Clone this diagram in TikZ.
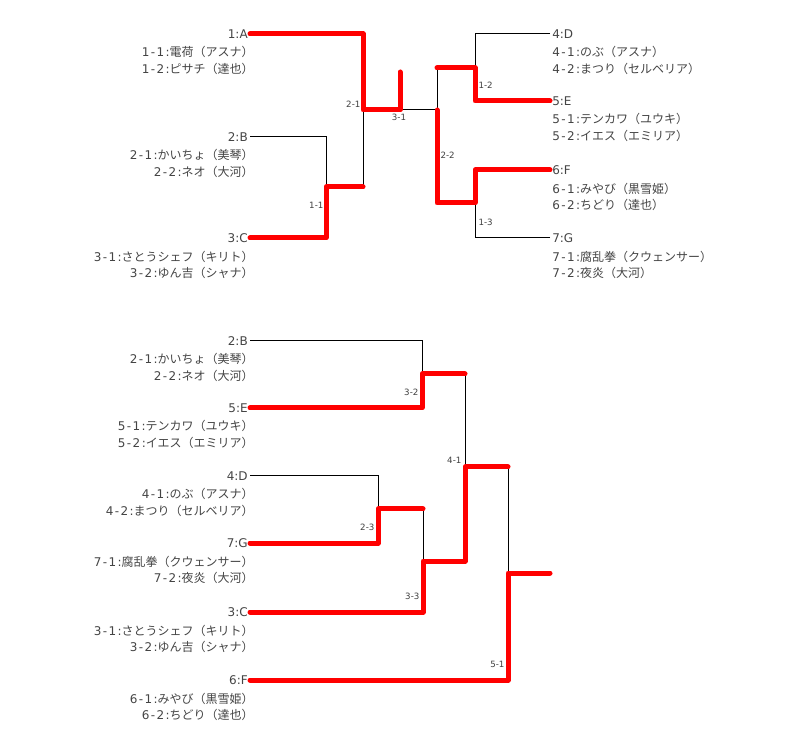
\documentclass[tikz,border=0pt]{standalone}
\usepackage{fontspec}
\setmainfont{DejaVu Sans}
\newfontfamily\jp{Noto Sans CJK JP}
\newfontfamily\memlatin[LetterSpace=12]{DejaVu Sans}
\newcommand{\player}[2]{{\memlatin #1}{\jp #2}}
\usetikzlibrary{positioning}
\definecolor{txtgray}{RGB}{68,68,68}
\definecolor{winred}{RGB}{255,0,0}

\begin{document}
\begin{tikzpicture}[
    x=0.75pt, y=-0.75pt,
    every node/.style={inner sep=1.5pt, text=txtgray},
    teamL/.style={anchor=east, font=\fontsize{9}{11}\selectfont},
    teamR/.style={anchor=west, font=\fontsize{9}{11}\selectfont},
    memL/.style={align=right, inner sep=1.5pt, xshift=4.5pt, font=\fontsize{9}{12.2}\selectfont},
    memR/.style={align=left, inner sep=1.5pt, font=\fontsize{9}{12.2}\selectfont},
    game/.style={font=\fontsize{6.5}{7}\selectfont, text=black!75, inner sep=1pt},
    lose/.style={draw=black, line width=0.75pt},
    win/.style={draw=winred, line width=3.75pt, line cap=round, line join=round}
]
\useasboundingbox (0,0) rectangle (800,748);

% upper bracket
\node (tA) [teamL] at (250,34)  {1:A};
\node (pA) [memL, below=2.8pt of tA.south east, anchor=north east] {\player{1-1:}{電荷（アスナ）}\\\player{1-2:}{ピサチ（達也）}};
\node (tB) [teamL] at (250,137) {2:B};
\node (pB) [memL, below=2.8pt of tB.south east, anchor=north east] {\player{2-1:}{かいちょ（美琴）}\\\player{2-2:}{ネオ（大河）}};
\node (tC) [teamL] at (250,238) {3:C};
\node (pC) [memL, below=2.8pt of tC.south east, anchor=north east] {\player{3-1:}{さとうシェフ（キリト）}\\\player{3-2:}{ゆん吉（シャナ）}};

\node (tD) [teamR] at (550,34)  {4:D};
\node (pD) [memR, below=2.8pt of tD.south west, anchor=north west] {\player{4-1:}{のぶ（アスナ）}\\\player{4-2:}{まつり（セルベリア）}};
\node (tE) [teamR] at (550,101) {5:E};
\node (pE) [memR, below=2.8pt of tE.south west, anchor=north west] {\player{5-1:}{テンカワ（ユウキ）}\\\player{5-2:}{イエス（エミリア）}};
\node (tF) [teamR] at (550,170) {6:F};
\node (pF) [memR, below=2.8pt of tF.south west, anchor=north west] {\player{6-1:}{みやび（黒雪姫）}\\\player{6-2:}{ちどり（達也）}};
\node (tG) [teamR] at (550,238) {7:G};
\node (pG) [memR, below=2.8pt of tG.south west, anchor=north west] {\player{7-1:}{腐乱拳（クウェンサー）}\\\player{7-2:}{夜炎（大河）}};

\coordinate (m11)  at (326,187);
\coordinate (m11o) at (363,187);
\coordinate (m21)  at (363,110);
\coordinate (m31)  at (400,110);
\coordinate (top1) at (400,72);
\coordinate (m22)  at (437,110);
\coordinate (m12)  at (475,68);
\coordinate (m12o) at (437,68);
\coordinate (m13)  at (475,203);
\coordinate (m13o) at (437,203);

\draw[lose] (tB.east) -| (m11);
\draw[lose] (m11o) -- (m21);
\draw[lose] (m31) -- (m22);
\draw[lose] (tD.west) -| (m12);
\draw[lose] (tG.west) -| (m13);
\draw[lose] (m12o) -- (m22);
\draw[win] (tC.east) -| (m11) -- (m11o);
\draw[win] (tA.east) -| (m21) -- (m31) -- (top1);
\draw[win] (tE.west) -| (m12) -- (m12o);
\draw[win] (tF.west) -| (m13) -- (m13o) -- (m22);

\node (g11) [game, anchor=east] at (325,205) {1-1};
\node (g21) [game, anchor=south east] at (362,109) {2-1};
\node (g31) [game, anchor=north] at (399,112) {3-1};
\node (g12) [game, anchor=west] at (477,85) {1-2};
\node (g22) [game, anchor=west] at (439,155) {2-2};
\node (g13) [game, anchor=west] at (477,222) {1-3};

% lower bracket
\node (uB) [teamL] at (250,341) {2:B};
\node (qB) [memL, below=2.8pt of uB.south east, anchor=north east] {\player{2-1:}{かいちょ（美琴）}\\\player{2-2:}{ネオ（大河）}};
\node (uE) [teamL] at (250,408) {5:E};
\node (qE) [memL, below=2.8pt of uE.south east, anchor=north east] {\player{5-1:}{テンカワ（ユウキ）}\\\player{5-2:}{イエス（エミリア）}};
\node (uD) [teamL] at (250,476) {4:D};
\node (qD) [memL, below=2.8pt of uD.south east, anchor=north east] {\player{4-1:}{のぶ（アスナ）}\\\player{4-2:}{まつり（セルベリア）}};
\node (uG) [teamL] at (250,543) {7:G};
\node (qG) [memL, below=2.8pt of uG.south east, anchor=north east] {\player{7-1:}{腐乱拳（クウェンサー）}\\\player{7-2:}{夜炎（大河）}};
\node (uC) [teamL] at (250,612) {3:C};
\node (qC) [memL, below=2.8pt of uC.south east, anchor=north east] {\player{3-1:}{さとうシェフ（キリト）}\\\player{3-2:}{ゆん吉（シャナ）}};
\node (uF) [teamL] at (250,680) {6:F};
\node (qF) [memL, below=2.8pt of uF.south east, anchor=north east] {\player{6-1:}{みやび（黒雪姫）}\\\player{6-2:}{ちどり（達也）}};

\coordinate (m32)  at (422,374);
\coordinate (m32o) at (465,374);
\coordinate (m23)  at (378,509);
\coordinate (m23o) at (423,509);
\coordinate (m33)  at (423,561);
\coordinate (m33o) at (465,561);
\coordinate (m41)  at (465,467);
\coordinate (m41o) at (508,467);
\coordinate (m51)  at (508,573);
\coordinate (top2) at (550,573);

\draw[lose] (uB.east) -| (m32);
\draw[lose] (uD.east) -| (m23);
\draw[lose] (m23o) -- (m33);
\draw[lose] (m32o) -- (m41);
\draw[lose] (m41o) -- (m51);
\draw[win] (uE.east) -| (m32) -- (m32o);
\draw[win] (uG.east) -| (m23) -- (m23o);
\draw[win] (uC.east) -| (m33) -- (m33o) -- (m41) -- (m41o);
\draw[win] (uF.east) -| (m51) -- (top2);

\node (g32) [game, anchor=east] at (420,392) {3-2};
\node (g23) [game, anchor=east] at (376,527) {2-3};
\node (g33) [game, anchor=east] at (421,596) {3-3};
\node (g41) [game, anchor=east] at (463,460) {4-1};
\node (g51) [game, anchor=east] at (506,664) {5-1};
\end{tikzpicture}
\end{document}
